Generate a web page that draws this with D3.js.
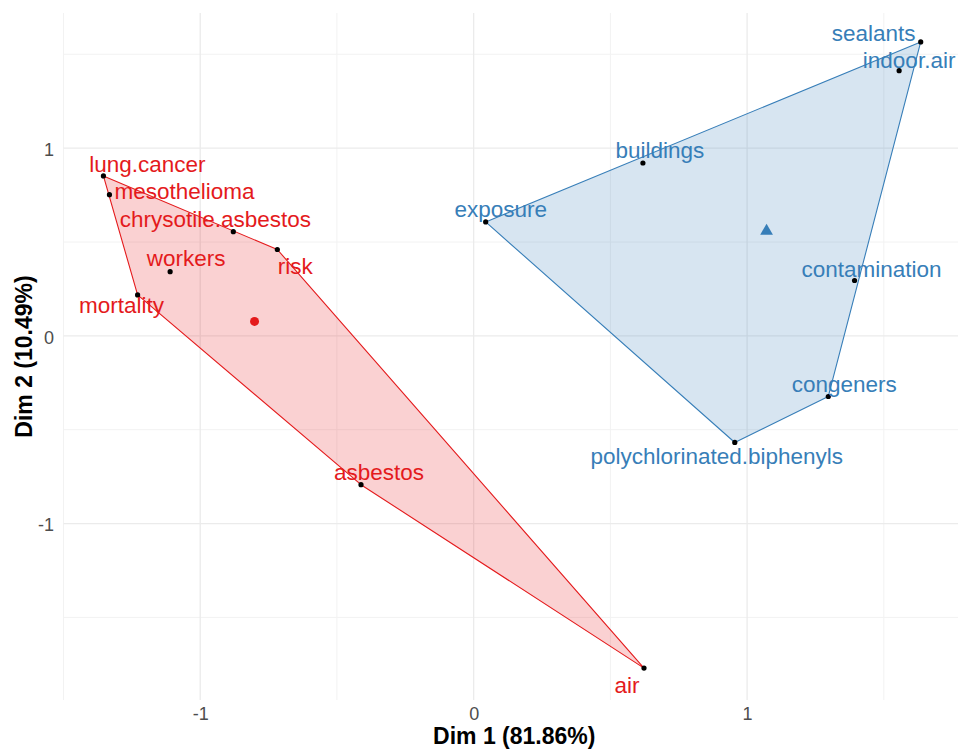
<!DOCTYPE html>
<html>
<head>
<meta charset="utf-8">
<script src="https://cdn.jsdelivr.net/npm/d3@7"></script>
<style>
  html, body { margin: 0; padding: 0; background: #fff; }
  svg { display: block; font-family: "Liberation Sans", Arial, Helvetica, sans-serif; }
</style>
</head>
<body>
<svg id="chart" width="958" height="749"></svg>
<script>
// Word coordinates on the first two dimensions, grouped into two clusters
const words = ["lung.cancer", "mesothelioma", "chrysotile.asbestos", "risk", "workers",
               "mortality", "asbestos", "air",
               "sealants", "indoor.air", "buildings", "exposure", "contamination",
               "congeners", "polychlorinated.biphenyls"];
const dim1 = [-1.354, -1.332, -0.879, -0.718, -1.110, -1.229, -0.412, 0.623,
              1.635, 1.556, 0.619, 0.044, 1.393, 1.297, 0.955];
const dim2 = [0.852, 0.752, 0.555, 0.460, 0.342, 0.218, -0.793, -1.770,
              1.566, 1.413, 0.921, 0.607, 0.295, -0.323, -0.568];
const cluster = [1, 1, 1, 1, 1, 1, 1, 1, 2, 2, 2, 2, 2, 2, 2];

const xTicks = [-1, 0, 1];
const yTicks = [-1, 0, 1];
const xTitle = "Dim 1 (81.86%)";
const yTitle = "Dim 2 (10.49%)";

// Label placement (pixel offsets from each point: centre x, baseline y)
const labelOffset = [[44, -4], [75, 4], [-18, -5], [18, 24], [16, -6],
                     [-16, 18], [18, -5], [-17, 25],
                     [-47, -1], [10, -3], [17, -5], [15, -5], [17, -3],
                     [16, -4], [-18, 22]];

const colors = { 1: "#E41A1C", 2: "#377EB8" };

const svg = d3.select("#chart");
const panel = { left: 63.5, right: 959, top: 13, bottom: 700 };

const x = d3.scaleLinear().domain([-1.5, 1.775]).range([panel.left, panel.right]);
const y = d3.scaleLinear().domain([-1.94, 1.72]).range([panel.bottom, panel.top]);

const data = words.map((w, i) => ({ word: w, x: dim1[i], y: dim2[i], cluster: cluster[i], off: labelOffset[i] }));

// Grid: minor then major lines
const gMinorX = [-1.5, -0.5, 0.5, 1.5];
const gMinorY = [-1.5, -0.5, 0.5, 1.5];
const grid = svg.append("g");
grid.selectAll("line.vminor").data(gMinorX).join("line")
  .attr("x1", d => x(d)).attr("x2", d => x(d))
  .attr("y1", panel.top).attr("y2", panel.bottom)
  .attr("stroke", "#f2f2f2").attr("stroke-width", 1);
grid.selectAll("line.hminor").data(gMinorY).join("line")
  .attr("y1", d => y(d)).attr("y2", d => y(d))
  .attr("x1", panel.left).attr("x2", panel.right)
  .attr("stroke", "#f2f2f2").attr("stroke-width", 1);
grid.selectAll("line.vmajor").data(xTicks).join("line")
  .attr("x1", d => x(d)).attr("x2", d => x(d))
  .attr("y1", panel.top).attr("y2", panel.bottom)
  .attr("stroke", "#ebebeb").attr("stroke-width", 1.3);
grid.selectAll("line.hmajor").data(yTicks).join("line")
  .attr("y1", d => y(d)).attr("y2", d => y(d))
  .attr("x1", panel.left).attr("x2", panel.right)
  .attr("stroke", "#ebebeb").attr("stroke-width", 1.3);

// Axes (tick labels only, plain hyphen for negatives)
const fmt = d => String(d);
const xAxis = d3.axisBottom(x).tickValues(xTicks).tickSize(0).tickPadding(0).tickFormat(fmt);
const yAxis = d3.axisLeft(y).tickValues(yTicks).tickSize(0).tickPadding(0).tickFormat(fmt);

const gx = svg.append("g").attr("transform", `translate(0,${panel.bottom})`).call(xAxis);
gx.select(".domain").remove();
gx.selectAll("text").attr("font-size", 18).attr("fill", "#4d4d4d")
  .attr("font-family", "Liberation Sans, Arial, sans-serif")
  .attr("dy", null).attr("y", 20);

const gy = svg.append("g").attr("transform", `translate(54,0)`).call(yAxis);
gy.select(".domain").remove();
gy.selectAll("text").attr("font-size", 18).attr("fill", "#4d4d4d")
  .attr("font-family", "Liberation Sans, Arial, sans-serif")
  .attr("x", 0).attr("dy", "0.4em");

// Hulls
const groups = d3.group(data, d => d.cluster);
const hullLayer = svg.append("g");
for (const [c, pts] of groups) {
  const hull = d3.polygonHull(pts.map(p => [x(p.x), y(p.y)]));
  hullLayer.append("path")
    .attr("d", "M" + hull.map(p => p.join(",")).join("L") + "Z")
    .attr("fill", colors[c]).attr("fill-opacity", 0.2)
    .attr("stroke", colors[c]).attr("stroke-width", 1.1)
    .attr("stroke-linejoin", "round");
}

// Cluster centres
const centres = Array.from(groups, ([c, pts]) => ({
  cluster: c, x: d3.mean(pts, p => p.x), y: d3.mean(pts, p => p.y)
}));
const centreLayer = svg.append("g");
centres.forEach(ct => {
  if (ct.cluster === 1) {
    centreLayer.append("circle").attr("cx", x(ct.x)).attr("cy", y(ct.y)).attr("r", 4.5)
      .attr("fill", colors[1]);
  } else {
    centreLayer.append("path")
      .attr("transform", `translate(${x(ct.x)},${y(ct.y)})`)
      .attr("d", d3.symbol(d3.symbolTriangle, 70)())
      .attr("fill", colors[2]);
  }
});

// Word points
svg.append("g").selectAll("circle").data(data).join("circle")
  .attr("cx", d => x(d.x)).attr("cy", d => y(d.y)).attr("r", 2.6)
  .attr("fill", "#000");

// Word labels
svg.append("g").selectAll("text").data(data).join("text")
  .attr("x", d => x(d.x) + d.off[0])
  .attr("y", d => y(d.y) + d.off[1])
  .attr("text-anchor", "middle")
  .attr("font-size", 22.5)
  .attr("fill", d => colors[d.cluster])
  .text(d => d.word);

// Axis titles
svg.append("text")
  .attr("x", (panel.left + panel.right) / 2 + 3).attr("y", 744)
  .attr("text-anchor", "middle").attr("font-size", 23).attr("font-weight", "bold")
  .attr("fill", "#000").text(xTitle);
svg.append("text")
  .attr("transform", `translate(31.5,${(panel.top + panel.bottom) / 2}) rotate(-90)`)
  .attr("text-anchor", "middle").attr("font-size", 23).attr("font-weight", "bold")
  .attr("fill", "#000").text(yTitle);
</script>
</body>
</html>
